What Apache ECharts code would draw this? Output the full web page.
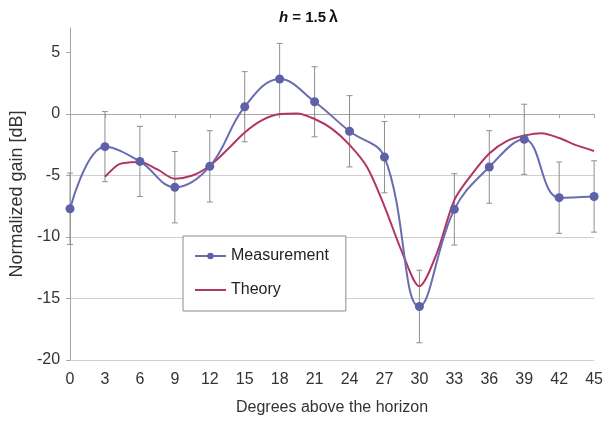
<!DOCTYPE html>
<html>
<head>
<meta charset="utf-8">
<title>h = 1.5 lambda</title>
<script src="https://cdn.jsdelivr.net/npm/echarts@6/dist/echarts.min.js"></script>
<style>
  html, body { margin: 0; padding: 0; background: #ffffff; }
  #chart { width: 606px; height: 421px; }
</style>
</head>
<body>
<div id="chart"></div>
<script>
// Measured gain, one point every 3 degrees
const degrees     = [0, 3, 6, 9, 12, 15, 18, 21, 24, 27, 30, 33, 36, 39, 42, 45];
const measurement = [-7.7, -2.65, -3.85, -5.95, -4.25, 0.6, 2.85, 1.0, -1.4, -3.5, -15.65, -7.75, -4.3, -2.05, -6.8, -6.7];
const measError   = [2.9, 2.85, 2.85, 2.9, 2.9, 2.85, 2.9, 2.85, 2.9, 2.9, 2.95, 2.9, 2.95, 2.85, 2.9, 2.9];

// Theoretical curve
const theoryDegrees = [3, 4, 4.5, 6, 7.5, 9, 10.5, 12, 13.5, 15, 16.5, 18, 19.5, 21, 22.5, 24, 25.5, 27, 28.5, 30, 31.5, 33, 34.5, 36, 37.5, 39, 40.5, 42, 43.5, 45];
const theoryGain    = [-5.1, -4.2, -4.0, -3.9, -4.5, -5.25, -5.0, -4.2, -2.9, -1.5, -0.5, 0.0, 0.05, -0.4, -1.2, -2.5, -4.3, -7.5, -11.2, -14.0, -11.3, -7.0, -4.9, -3.2, -2.2, -1.75, -1.55, -1.95, -2.55, -3.0];

const yTicks = [-20, -15, -10, -5, 0, 5];

const FONT = "'Liberation Sans', Arial, sans-serif";
const BLUE = '#6a6cb0';
const RED  = '#b33561';

const measData   = degrees.map((d, i) => [d, measurement[i]]);
const errData    = degrees.map((d, i) => [d, measurement[i] - measError[i], measurement[i] + measError[i]]);
const theoryData = theoryDegrees.map((d, i) => [d, theoryGain[i]]);

const chart = echarts.init(document.getElementById('chart'));

chart.setOption({
  animation: false,
  backgroundColor: '#ffffff',
  title: {
    left: 274,
    top: 5,
    text: '{i|h}{b| = 1.5}{l|λ}',
    textStyle: {
      rich: {
        i: { fontFamily: FONT, fontSize: 15, fontWeight: 'bold', fontStyle: 'italic', color: '#111' },
        b: { fontFamily: FONT, fontSize: 15, fontWeight: 'bold', color: '#111' },
        l: { fontFamily: FONT, fontSize: 16, color: '#111', padding: [0, 0, 0, 3] }
      }
    }
  },
  grid: { left: 67, right: 10, top: 28, bottom: 61 },
  legend: {
    orient: 'vertical',
    left: 183,
    top: 236,
    data: [
      { name: 'Measurement' },
      { name: 'Theory', itemStyle: { opacity: 0 } }
    ],
    backgroundColor: '#ffffff',
    borderColor: '#8c8c8c',
    borderWidth: 1,
    padding: [12, 17, 13, 11],
    itemWidth: 31,
    itemHeight: 8,
    itemGap: 18,
    textStyle: { fontFamily: FONT, fontSize: 16, color: '#222' }
  },
  xAxis: {
    type: 'value',
    min: 0,
    max: 45,
    interval: 3,
    name: 'Degrees above the horizon',
    nameLocation: 'middle',
    nameGap: 40,
    nameTextStyle: { fontFamily: FONT, fontSize: 16, color: '#333' },
    axisLine: { lineStyle: { color: '#a6a6a6' } },
    axisTick: { show: true, length: 4, lineStyle: { color: '#a6a6a6' } },
    axisLabel: { fontFamily: FONT, fontSize: 16, color: '#333', margin: 12 },
    splitLine: { show: false }
  },
  yAxis: {
    type: 'value',
    min: -20,
    max: 7,
    interval: 5,
    name: 'Normalized gain [dB]',
    nameLocation: 'middle',
    nameGap: 41,
    nameTextStyle: { fontFamily: FONT, fontSize: 18, color: '#333' },
    axisLine: { show: true, lineStyle: { color: '#a6a6a6' } },
    axisTick: { show: true, length: 4, customValues: yTicks, lineStyle: { color: '#a6a6a6' } },
    axisLabel: { fontFamily: FONT, fontSize: 16, color: '#333', margin: 10, customValues: yTicks },
    splitLine: { show: true, showMaxLine: false, lineStyle: { color: '#cfcfcf', width: 1 } }
  },
  series: [
    {
      name: 'errors',
      type: 'custom',
      z: 1,
      silent: true,
      encode: { x: 0, y: [1, 2] },
      data: errData,
      renderItem: (params, api) => {
        const x = api.value(0);
        const lo = api.coord([x, api.value(1)]);
        const hi = api.coord([x, api.value(2)]);
        const cap = 3;
        const style = { stroke: '#8e8e8e', lineWidth: 1, fill: null };
        return {
          type: 'group',
          children: [
            { type: 'line', shape: { x1: hi[0], y1: hi[1], x2: lo[0], y2: lo[1] }, style },
            { type: 'line', shape: { x1: hi[0] - cap, y1: hi[1], x2: hi[0] + cap, y2: hi[1] }, style },
            { type: 'line', shape: { x1: lo[0] - cap, y1: lo[1], x2: lo[0] + cap, y2: lo[1] }, style }
          ]
        };
      }
    },
    {
      name: 'Theory',
      type: 'line',
      z: 2,
      data: theoryData,
      smooth: 0.3,
      symbol: 'none',
      lineStyle: { color: RED, width: 2 },
      itemStyle: { color: RED }
    },
    {
      name: 'Measurement',
      type: 'line',
      z: 3,
      data: measData,
      smooth: 0.4,
      symbol: 'circle',
      symbolSize: 9,
      lineStyle: { color: BLUE, width: 2 },
      itemStyle: { color: '#5e61a8', borderWidth: 0 }
    }
  ]
});
</script>
</body>
</html>
